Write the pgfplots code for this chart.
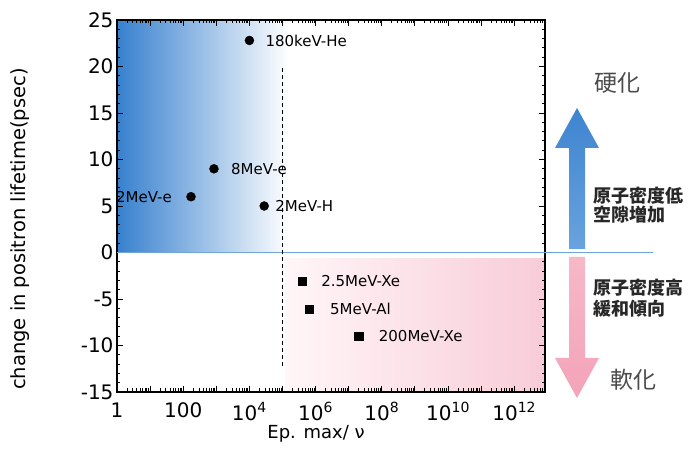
\documentclass[border=0pt]{standalone}
\usepackage{fontspec}
\setmainfont{DejaVu Sans}
\newfontfamily\jp{Noto Sans CJK JP}
\usepackage{pgfplots}
\pgfplotsset{compat=1.18}
\definecolor{blueD}{RGB}{55,128,206}
\definecolor{blueM}{RGB}{192,216,242}
\definecolor{pinkL}{RGB}{255,246,248}
\definecolor{pinkR}{RGB}{248,204,216}
\definecolor{lineblue}{RGB}{110,165,215}
\definecolor{arrB1}{RGB}{62,132,208}
\definecolor{arrB2}{RGB}{105,163,222}
\definecolor{arrP1}{RGB}{247,184,200}
\definecolor{arrP2}{RGB}{243,163,185}
\definecolor{jptext}{RGB}{40,40,40}
\definecolor{jpgray}{RGB}{75,75,75}
\tikzset{lbl/.style={font=\fontsize{15}{15}\selectfont, inner sep=0pt}}
\begin{document}
\begin{tikzpicture}
\useasboundingbox (0pt,0pt) rectangle (695pt,454pt);
% background gradients in a hidden axis
\begin{axis}[at={(117pt,62pt)}, anchor=south west,
  scale only axis, width=428pt, height=372pt,
  xmode=log, log basis x=10,
  xmin=1, xmax=8.5e12, ymin=-15, ymax=25, hide axis]
\addplot[draw=none, left color=blueD, middle color=blueM, right color=white, forget plot]
  coordinates {(1,0) (1,25) (1.6e5,25) (1.6e5,0)};
\addplot[draw=none, left color=pinkL, right color=pinkR, forget plot]
  coordinates {(1.2e5,-0.6) (1.2e5,-15) (8.5e12,-15) (8.5e12,-0.6)};
\end{axis}
\begin{axis}[
  at={(117pt,62pt)}, anchor=south west,
  scale only axis, width=428pt, height=372pt,
  xmode=log, log basis x=10,
  xmin=1, xmax=8.5e12, ymin=-15, ymax=25,
  xtick={1,10,100,1e3,1e4,1e5,1e6,1e7,1e8,1e9,1e10,1e11,1e12},
  xticklabels={1,,100,,10\textsuperscript{4},,10\textsuperscript{6},,10\textsuperscript{8},,10\textsuperscript{10},,10\textsuperscript{12}},
  minor xtick={2,3,4,5,6,7,8,9,
    20,30,40,50,60,70,80,90,
    200,300,400,500,600,700,800,900,
    2e3,3e3,4e3,5e3,6e3,7e3,8e3,9e3,
    2e4,3e4,4e4,5e4,6e4,7e4,8e4,9e4,
    2e5,3e5,4e5,5e5,6e5,7e5,8e5,9e5,
    2e6,3e6,4e6,5e6,6e6,7e6,8e6,9e6,
    2e7,3e7,4e7,5e7,6e7,7e7,8e7,9e7,
    2e8,3e8,4e8,5e8,6e8,7e8,8e8,9e8,
    2e9,3e9,4e9,5e9,6e9,7e9,8e9,9e9,
    2e10,3e10,4e10,5e10,6e10,7e10,8e10,9e10,
    2e11,3e11,4e11,5e11,6e11,7e11,8e11,9e11,
    2e12,3e12,4e12,5e12,6e12,7e12,8e12},
  ytick={-15,-10,-5,0,5,10,15,20,25},
  yticklabels={-15,-10,-5,0,5,10,15,20,25},
  minor y tick num=4,
  axis line style={line width=1.6pt},
  tick style={black, line width=0.9pt},
  major tick length=6pt, minor tick length=3.5pt,
  ticklabel style={font=\fontsize{20}{20}\selectfont},
  xticklabel style={yshift=-7pt},
  clip=false,
  xlabel={Ep. max/ ν},
  xlabel style={at={(axis description cs:0.465,-0.113)}, anchor=center, font=\fontsize{18}{18}\selectfont},
  ylabel={change in positron lifetime(psec)},
  ylabel style={at={(axis description cs:-0.227,0.438)}, anchor=center, font=\fontsize{19.5}{19.5}\selectfont},
]
% zero line
\draw[lineblue, line width=1.1pt] (axis cs:1,0) -- ++(536pt,0pt);
% dashed boundary
\addplot[black, dash pattern=on 4pt off 3pt, line width=0.7pt, forget plot]
  coordinates {(1e5,-12.2) (1e5,19.8)};
% data
\addplot[only marks, mark=*, mark size=4.5pt, black]
  coordinates {(1e4,22.8) (850,9) (172,6) (2.8e4,5)};
\addplot[only marks, mark=square*, mark size=4.2pt, black]
  coordinates {(3.9e5,-3.1) (6.3e5,-6.1) (2.0e7,-9)};
% labels
\node[lbl, anchor=west, xshift=16pt] at (axis cs:1e4,22.8) {180keV-He};
\node[lbl, anchor=west, xshift=17pt] at (axis cs:850,9) {8MeV-e};
\node[lbl, anchor=east, xshift=-19pt] at (axis cs:172,6) {2MeV-e};
\node[lbl, anchor=west, xshift=11pt] at (axis cs:2.8e4,5) {2MeV-H};
\node[lbl, anchor=west, xshift=19pt] at (axis cs:3.9e5,-3.1) {2.5MeV-Xe};
\node[lbl, anchor=west, xshift=21pt] at (axis cs:6.3e5,-6.1) {5MeV-Al};
\node[lbl, anchor=west, xshift=20pt] at (axis cs:2.0e7,-9) {200MeV-Xe};
\end{axis}
% arrows
\shade[top color=arrB1, bottom color=arrB2]
  (569pt,205pt) -- (585pt,205pt) -- (585pt,306pt) -- (599pt,306pt) -- (577pt,346pt) -- (555pt,306pt) -- (569pt,306pt) -- cycle;
\shade[top color=arrP1, bottom color=arrP2]
  (569pt,197pt) -- (585pt,197pt) -- (585pt,96pt) -- (599pt,96pt) -- (577pt,56pt) -- (555pt,96pt) -- (569pt,96pt) -- cycle;
% Japanese text
\node[font=\jp\fontsize{23}{23}\selectfont, text=jpgray, inner sep=0pt] at (617pt,371pt) {硬化};
\node[font=\jp\fontsize{23}{23}\selectfont, text=jpgray, inner sep=0pt] at (633pt,74pt) {軟化};
\node[anchor=west, font=\jp\bfseries\fontsize{18}{18}\selectfont, text=jptext, inner sep=0pt] at (593pt,258pt) {原子密度低};
\node[anchor=west, font=\jp\bfseries\fontsize{18}{18}\selectfont, text=jptext, inner sep=0pt] at (593pt,239pt) {空隙増加};
\node[anchor=west, font=\jp\bfseries\fontsize{18}{18}\selectfont, text=jptext, inner sep=0pt] at (593pt,166pt) {原子密度高};
\node[anchor=west, font=\jp\bfseries\fontsize{18}{18}\selectfont, text=jptext, inner sep=0pt] at (593pt,145pt) {緩和傾向};
\end{tikzpicture}
\end{document}
